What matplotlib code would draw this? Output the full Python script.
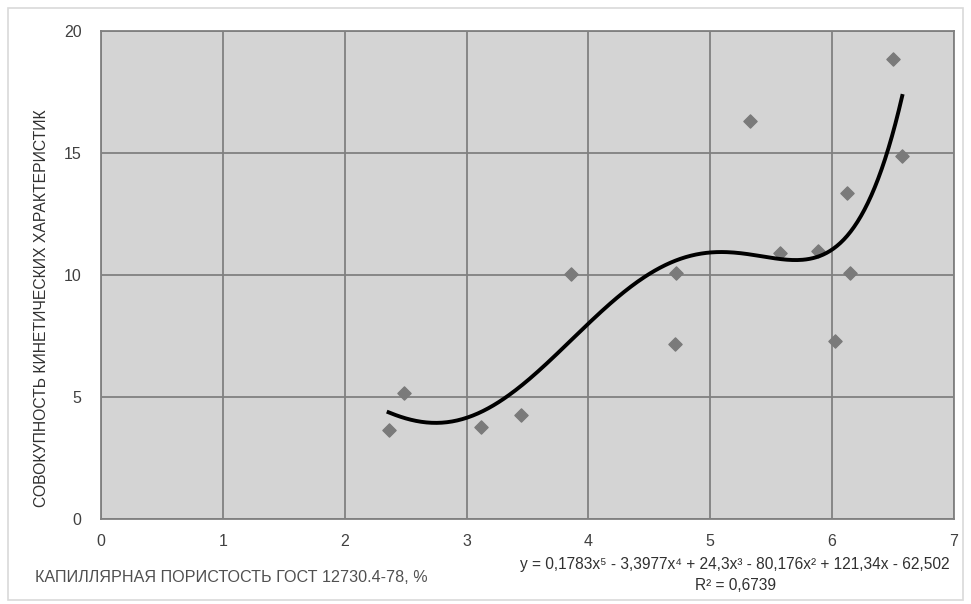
import numpy as np
import matplotlib
matplotlib.use("Agg")
import matplotlib.pyplot as plt
from matplotlib.patches import Rectangle

# scatter data
porosity = [2.36, 2.49, 3.12, 3.45, 3.86, 4.72, 4.71, 5.33, 5.57, 5.88,
            6.02, 6.12, 6.15, 6.50, 6.575]
kinetic = [3.65, 5.16, 3.77, 4.26, 10.04, 10.10, 7.17, 16.32, 10.89, 11.0,
           7.31, 13.36, 10.07, 18.84, 14.88]

# trend line coefficients as printed on the chart (degree 5)
coefs = [0.1783, -3.3977, 24.3, -80.176, 121.34, -62.502]
eq_text = "y = 0,1783x\u2075 - 3,3977x\u2074 + 24,3x\u00b3 - 80,176x\u00b2 + 121,34x - 62,502"
r2_text = "R\u00b2 = 0,6739"

xlabel = "КАПИЛЛЯРНАЯ ПОРИСТОСТЬ ГОСТ 12730.4-78, %"
ylabel = "СОВОКУПНОСТЬ КИНЕТИЧЕСКИХ ХАРАКТЕРИСТИК"

plt.rcParams['font.family'] = ['Liberation Sans', 'DejaVu Sans']

W, H = 971, 604
fig = plt.figure(figsize=(W/100, H/100), dpi=100)
ax = fig.add_axes([101/W, 1 - 519/H, (954-101)/W, (519-31)/H])

# light frame around the whole chart
fig.patches.append(Rectangle((8/W, 4/H), (963-8)/W, (596-4)/H, transform=fig.transFigure,
                             fill=False, edgecolor='#d9d9d9', linewidth=1.2))

ax.set_facecolor('#d4d4d4')
ax.set_xlim(0, 7)
ax.set_ylim(0, 20)
ax.set_xticks(range(0, 8))
ax.set_yticks(range(0, 21, 5))
ax.grid(True, color='#808080', linewidth=1.3)
ax.set_axisbelow(True)
for s in ax.spines.values():
    s.set_color('#808080')
    s.set_linewidth(1.3)
ax.tick_params(length=0, labelsize=11.5, colors='#404040')
ax.tick_params(axis='x', pad=11)
ax.tick_params(axis='y', pad=14)

ax.scatter(porosity, kinetic, marker='D', s=45, color='#7a7a7a', zorder=3)

xs = np.linspace(min(porosity), max(porosity), 300)
ax.plot(xs, np.polyval(coefs, xs), color='black', linewidth=2.8, zorder=4)

fig.text(42/W, 1 - 308/H, ylabel, rotation=90, ha='center', va='center',
         fontsize=11.3, color='#303030')
fig.text(35/W, 1 - 578/H, xlabel, ha='left', va='center', fontsize=11.6, color='#505050')
fig.text(735/W, 1 - 565/H, eq_text, ha='center', va='center', fontsize=11.2, color='#303030')
fig.text(735/W, 1 - 585/H, r2_text, ha='center', va='center', fontsize=11.2, color='#303030')

fig.savefig("out.png", dpi=100)
